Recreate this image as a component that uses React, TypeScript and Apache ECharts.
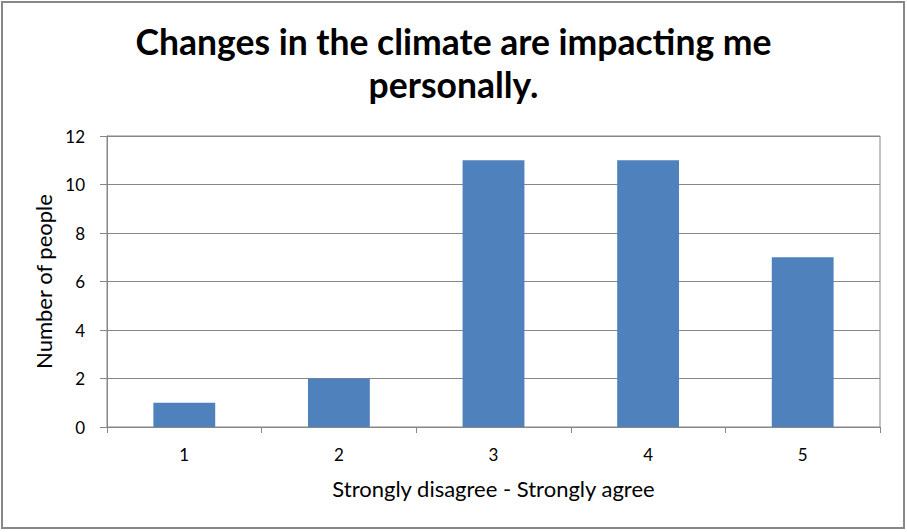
import React, { useEffect, useRef } from "react";
import * as echarts from "echarts";

const categories = ["1", "2", "3", "4", "5"];
const values = [1, 2, 11, 11, 7];
const yTicks = [0, 2, 4, 6, 8, 10, 12];
const titleText = "Changes in the climate are impacting me\npersonally.";
const xName = "Strongly disagree - Strongly agree";
const yName = "Number of people";

export default function App() {
  const ref = useRef<HTMLDivElement>(null);
  useEffect(() => {
    const chart = echarts.init(ref.current!, null, { renderer: "svg" });
    const font = "Lato, 'Open Sans', sans-serif";
    chart.setOption({
      animation: false,
      backgroundColor: "#ffffff",
      textStyle: { fontFamily: font },
      title: {
        text: titleText,
        left: "center",
        top: 15,
        textStyle: { fontSize: 35.5, fontWeight: "bold", color: "#000", lineHeight: 43, fontFamily: font },
      },
      grid: {
        left: 107,
        right: 27,
        top: 136,
        bottom: 105,
        show: true,
        borderColor: "#868686",
        borderWidth: 1,
      },
      graphic: [
        {
          type: "rect",
          shape: { x: 2, y: 2, width: 902, height: 526 },
          style: { fill: "none", stroke: "#878787", lineWidth: 2 },
          silent: true,
        },
      ],
      xAxis: {
        type: "category",
        data: categories,
        name: xName,
        nameLocation: "middle",
        nameGap: 50,
        nameTextStyle: { fontSize: 22, color: "#000", fontFamily: font },
        axisLine: { lineStyle: { color: "#868686" } },
        axisTick: { show: true, length: 6, lineStyle: { color: "#868686" } },
        axisLabel: { fontSize: 17, color: "#000", margin: 19, fontFamily: font },
      },
      yAxis: {
        type: "value",
        min: 0,
        max: 12,
        interval: 2,
        name: yName,
        nameLocation: "middle",
        nameGap: 51,
        nameTextStyle: { fontSize: 22, color: "#000", fontFamily: font },
        axisLine: { show: true, lineStyle: { color: "#868686" } },
        axisTick: { show: true, length: 7, lineStyle: { color: "#868686" } },
        axisLabel: { fontSize: 17, color: "#000", margin: 22, fontFamily: font },
        splitLine: { lineStyle: { color: "#868686" } },
      },
      series: [
        {
          type: "bar",
          data: values,
          barWidth: "40%",
          itemStyle: { color: "#4F81BD" },
        },
      ],
    });
    return () => chart.dispose();
  }, []);
  return (
    <div
      ref={ref}
      style={{ position: "absolute", left: 0, top: 0, width: 907, height: 532 }}
    />
  );
}
